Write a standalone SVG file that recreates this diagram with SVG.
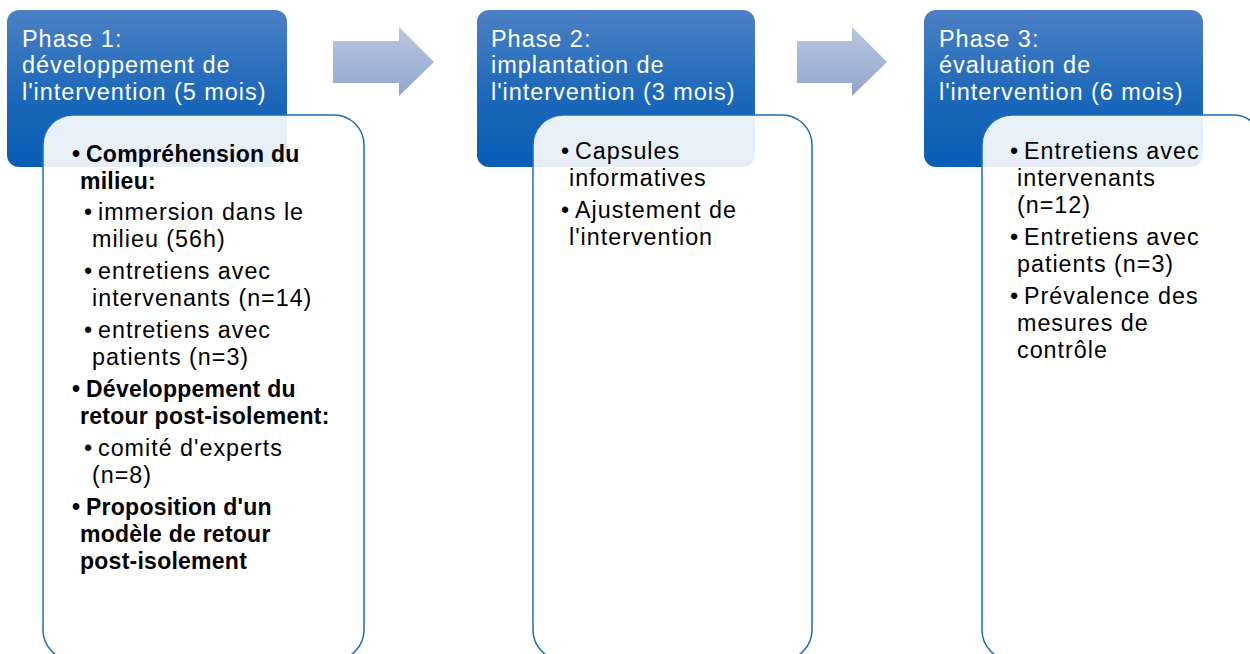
<svg xmlns="http://www.w3.org/2000/svg" width="1250" height="654" viewBox="0 0 1250 654">
<defs>
<linearGradient id="hdr" x1="0" y1="0" x2="0" y2="1">
<stop offset="0" stop-color="#4c81c4"/>
<stop offset="0.55" stop-color="#1c68ba"/>
<stop offset="1" stop-color="#075db4"/>
</linearGradient>
<linearGradient id="arr" x1="0" y1="0" x2="0" y2="1">
<stop offset="0" stop-color="#b8c7e1"/>
<stop offset="1" stop-color="#92a5cc"/>
</linearGradient>
</defs>
<style>
.hdr{fill:url(#hdr);}
.body{fill:#ffffff;fill-opacity:0.9;stroke:#1b6cc0;stroke-width:1.5;}
.arr{fill:url(#arr);}
.ht{font-family:"Liberation Sans",Arial,sans-serif;font-size:23.5px;fill:#ffffff;letter-spacing:0.95px;}
.t{font-family:"Liberation Sans",Arial,sans-serif;font-size:23.3px;fill:#000000;letter-spacing:1px;}
.b{font-family:"Liberation Sans",Arial,sans-serif;font-size:23px;font-weight:bold;fill:#000000;letter-spacing:0.25px;}
</style>
<rect width="1250" height="654" fill="#ffffff"/>
<g id="connectors">
<path class="arr" d="M333,41 H399 V27 L434,62 L399,96 V83 H333 Z"/>
<path class="arr" d="M797,41 H852 V27 L887,62 L852,96 V83 H797 Z"/>
</g>
<g id="phase1">
<rect class="hdr" x="7" y="10" width="280" height="157" rx="12"/>
<text class="ht" x="22" y="47">Phase 1:</text>
<text class="ht" x="22" y="73">développement de</text>
<text class="ht" x="22" y="100">l'intervention (5 mois)</text>
<rect class="body" x="43" y="115" width="321" height="545" rx="30"/>
<text class="b" x="72" y="162">•</text><text class="b" x="86" y="162">Compréhension du</text>
<text class="b" x="80" y="189">milieu:</text>
<text class="t" x="84" y="220">•</text><text class="t" x="98" y="220">immersion dans le</text>
<text class="t" x="92" y="247">milieu (56h)</text>
<text class="t" x="84" y="279">•</text><text class="t" x="98" y="279">entretiens avec</text>
<text class="t" x="92" y="306">intervenants (n=14)</text>
<text class="t" x="84" y="338">•</text><text class="t" x="98" y="338">entretiens avec</text>
<text class="t" x="92" y="365">patients (n=3)</text>
<text class="b" x="72" y="397">•</text><text class="b" x="86" y="397">Développement du</text>
<text class="b" x="80" y="424">retour post-isolement:</text>
<text class="t" x="84" y="456">•</text><text class="t" x="98" y="456">comité d'experts</text>
<text class="t" x="92" y="483">(n=8)</text>
<text class="b" x="72" y="515">•</text><text class="b" x="86" y="515">Proposition d'un</text>
<text class="b" x="80" y="542">modèle de retour</text>
<text class="b" x="80" y="569">post-isolement</text>
</g>
<g id="phase2">
<rect class="hdr" x="477" y="10" width="278" height="157" rx="12"/>
<text class="ht" x="491" y="47">Phase 2:</text>
<text class="ht" x="491" y="73">implantation de</text>
<text class="ht" x="491" y="100">l'intervention (3 mois)</text>
<rect class="body" x="533" y="115" width="279" height="545" rx="30"/>
<text class="t" x="561" y="159">•</text><text class="t" x="575" y="159">Capsules</text>
<text class="t" x="569" y="186">informatives</text>
<text class="t" x="561" y="218">•</text><text class="t" x="575" y="218">Ajustement de</text>
<text class="t" x="569" y="245">l'intervention</text>
</g>
<g id="phase3">
<rect class="hdr" x="924" y="10" width="279" height="157" rx="12"/>
<text class="ht" x="939" y="47">Phase 3:</text>
<text class="ht" x="939" y="73">évaluation de</text>
<text class="ht" x="939" y="100">l'intervention (6 mois)</text>
<rect class="body" x="982" y="115" width="281" height="545" rx="30"/>
<text class="t" x="1010" y="159">•</text><text class="t" x="1024" y="159">Entretiens avec</text>
<text class="t" x="1017" y="186">intervenants</text>
<text class="t" x="1017" y="213">(n=12)</text>
<text class="t" x="1010" y="245">•</text><text class="t" x="1024" y="245">Entretiens avec</text>
<text class="t" x="1017" y="272">patients (n=3)</text>
<text class="t" x="1010" y="304">•</text><text class="t" x="1024" y="304">Prévalence des</text>
<text class="t" x="1017" y="331">mesures de</text>
<text class="t" x="1017" y="358">contrôle</text>
</g>
</svg>
